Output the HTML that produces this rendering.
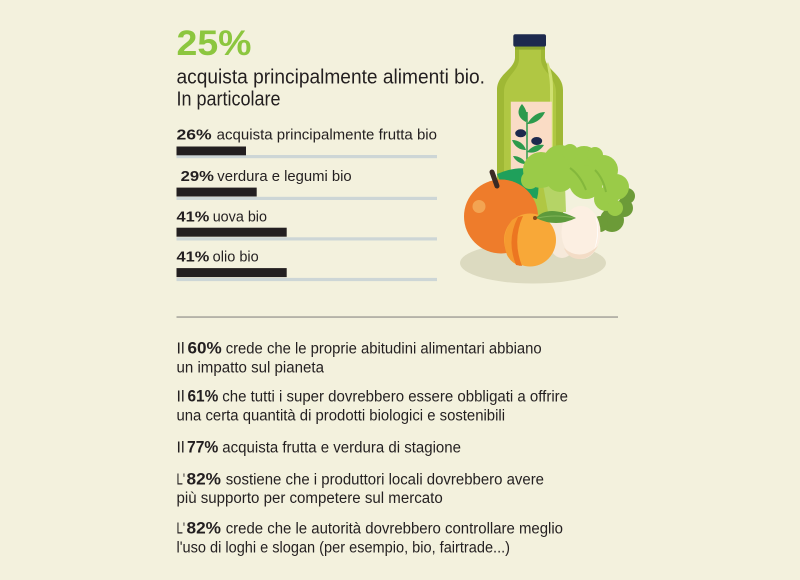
<!DOCTYPE html>
<html>
<head>
<meta charset="utf-8">
<style>
html,body{margin:0;padding:0;background:#f3f1dd;}
svg{display:block;}
text{font-family:"Liberation Sans",sans-serif;fill:#231f20;}
.b{font-weight:bold;}
</style>
</head>
<body>
<svg width="800" height="580" viewBox="0 0 800 580" xmlns="http://www.w3.org/2000/svg">
<rect x="0" y="0" width="800" height="580" fill="#f3f1dd"/>

<!-- Headline -->
<text x="176.5" y="55" class="b" font-size="35" textLength="75" lengthAdjust="spacingAndGlyphs" style="fill:#8cc63f">25%</text>
<text x="176.5" y="83.3" font-size="20" textLength="308.5" lengthAdjust="spacingAndGlyphs">acquista principalmente alimenti bio.</text>
<text x="176.5" y="105.5" font-size="20" textLength="104" lengthAdjust="spacingAndGlyphs">In particolare</text>

<!-- Bars -->
<g fill="#cdd6d6">
<rect x="176.5" y="155" width="260.5" height="3.2"/>
<rect x="176.5" y="196.8" width="260.5" height="3.2"/>
<rect x="176.5" y="237.3" width="260.5" height="3.2"/>
<rect x="176.5" y="277.9" width="260.5" height="3.2"/>
</g>
<g fill="#231f20">
<rect x="176.5" y="146.5" width="69.5" height="8.8"/>
<rect x="176.5" y="187.6" width="80.2" height="8.9"/>
<rect x="176.5" y="227.7" width="110.2" height="9"/>
<rect x="176.5" y="268.1" width="110.2" height="9"/>
</g>

<text x="176.5" y="139.3" class="b" font-size="15" textLength="35.2" lengthAdjust="spacingAndGlyphs">26%</text>
<text x="216.7" y="139.3" font-size="14.5" textLength="220.3" lengthAdjust="spacingAndGlyphs">acquista principalmente frutta bio</text>

<text x="180.7" y="181" class="b" font-size="15" textLength="33.3" lengthAdjust="spacingAndGlyphs">29%</text>
<text x="217.3" y="181" font-size="14.5" textLength="134.4" lengthAdjust="spacingAndGlyphs">verdura e legumi bio</text>

<text x="176.5" y="221.7" class="b" font-size="15" textLength="32.8" lengthAdjust="spacingAndGlyphs">41%</text>
<text x="212.7" y="221.7" font-size="14.5" textLength="54.3" lengthAdjust="spacingAndGlyphs">uova bio</text>

<text x="176.5" y="261.7" class="b" font-size="15" textLength="32.8" lengthAdjust="spacingAndGlyphs">41%</text>
<text x="212.7" y="261.7" font-size="14.5" textLength="46" lengthAdjust="spacingAndGlyphs">olio bio</text>

<!-- Separator -->
<rect x="176.5" y="316.3" width="441.5" height="1.5" fill="#a4a39b"/>

<!-- Bottom statements -->
<text x="176.5" y="353.3" font-size="15.5" textLength="8" lengthAdjust="spacingAndGlyphs">Il</text>
<text x="187.5" y="353.3" class="b" font-size="16.5" textLength="34.2" lengthAdjust="spacingAndGlyphs">60%</text>
<text x="225.7" y="353.3" font-size="15.5" textLength="316" lengthAdjust="spacingAndGlyphs">crede che le proprie abitudini alimentari abbiano</text>
<text x="176.5" y="372.6" font-size="15.5" textLength="147.5" lengthAdjust="spacingAndGlyphs">un impatto sul pianeta</text>

<text x="176.5" y="401.6" font-size="15.5" textLength="8" lengthAdjust="spacingAndGlyphs">Il</text>
<text x="187.5" y="401.6" class="b" font-size="16.5" textLength="30.8" lengthAdjust="spacingAndGlyphs">61%</text>
<text x="222.3" y="401.6" font-size="15.5" textLength="345.7" lengthAdjust="spacingAndGlyphs">che tutti i super dovrebbero essere obbligati a offrire</text>
<text x="176.5" y="420.7" font-size="15.5" textLength="328.5" lengthAdjust="spacingAndGlyphs">una certa quantità di prodotti biologici e sostenibili</text>

<text x="176.5" y="452.7" font-size="15.5" textLength="8" lengthAdjust="spacingAndGlyphs">Il</text>
<text x="187" y="452.7" class="b" font-size="16.5" textLength="31.3" lengthAdjust="spacingAndGlyphs">77%</text>
<text x="222.3" y="452.7" font-size="15.5" textLength="238.7" lengthAdjust="spacingAndGlyphs">acquista frutta e verdura di stagione</text>

<text x="176.5" y="484.3" font-size="15.5" textLength="8.5" lengthAdjust="spacingAndGlyphs">L'</text>
<text x="186.5" y="484.3" class="b" font-size="16.5" textLength="34.5" lengthAdjust="spacingAndGlyphs">82%</text>
<text x="225.7" y="484.3" font-size="15.5" textLength="318.3" lengthAdjust="spacingAndGlyphs">sostiene che i produttori locali dovrebbero avere</text>
<text x="176.5" y="503" font-size="15.5" textLength="266.2" lengthAdjust="spacingAndGlyphs">più supporto per competere sul mercato</text>

<text x="176.5" y="533.3" font-size="15.5" textLength="8.5" lengthAdjust="spacingAndGlyphs">L'</text>
<text x="186.5" y="533.3" class="b" font-size="16.5" textLength="34.5" lengthAdjust="spacingAndGlyphs">82%</text>
<text x="225.7" y="533.3" font-size="15.5" textLength="337.3" lengthAdjust="spacingAndGlyphs">crede che le autorità dovrebbero controllare meglio</text>
<text x="176.5" y="552.3" font-size="15.5" textLength="333.5" lengthAdjust="spacingAndGlyphs">l'uso di loghi e slogan (per esempio, bio, fairtrade...)</text>

<!-- Illustration -->
<ellipse cx="533" cy="263" rx="73" ry="20.5" fill="#dcdac0"/>

<!-- Bottle -->
<path d="M515,46 L545,46 L545,58 C546,70 563,74 563,90 L563,215 L497,215 L497,90 C497,74 514,70 515,58 Z" fill="#9fb835"/>
<path d="M519,47 L541,47 L541,60 C542,72 556,77 556,92 L556,215 L504,215 L504,92 C504,77 518,72 519,60 Z" fill="#b0c743"/>
<path d="M548,62 C551,70 553,76 553,88 L553,160 L550,160 L550,88 C550,78 548,72 547,64 Z" fill="#cfe070"/>
<rect x="513.3" y="34.3" width="32.7" height="12.5" rx="2" fill="#1d2a4e"/>
<rect x="515" y="46.6" width="30" height="3" fill="#8ea82e"/>
<rect x="510.8" y="101.7" width="41" height="70" fill="#fadcc5"/>
<!-- olive branch -->
<path d="M527,168 L527,112" stroke="#2d9a4c" stroke-width="1.5"/>
<path d="M526,122 C518,118 516,111 522,104 C527,110 528,116 526,122 Z" fill="#2d9a4c"/>
<path d="M527,124 C532,116 538,112 545,112 C542,119 535,124 527,124 Z" fill="#2d9a4c"/>
<path d="M526,150 C518,150 514,145 512,140 C519,140 524,144 526,150 Z" fill="#2d9a4c"/>
<path d="M527,152 C532,146 538,144 544,145 C540,151 534,154 527,152 Z" fill="#2d9a4c"/>
<path d="M526,164 C519,164 515,160 513,156 C519,156 524,159 526,164 Z" fill="#2d9a4c"/>
<path d="M527,165 C533,159 539,157 545,158 C541,164 534,167 527,165 Z" fill="#2d9a4c"/>
<ellipse cx="520.7" cy="133.3" rx="5.5" ry="4" fill="#1d2a4e"/>
<ellipse cx="536.7" cy="141" rx="5.5" ry="4" fill="#1d2a4e"/>

<!-- Orange -->
<path d="M497,174 Q518,165 534,170 Q541,184 537,199 Q515,192 500,181 Z" fill="#1fa05b"/>
<circle cx="501" cy="216.5" r="37" fill="#ee7c2b"/>
<circle cx="479" cy="206.5" r="6.5" fill="#f3a452"/>
<path d="M492,172 L497,186" stroke="#3a2a25" stroke-width="5" stroke-linecap="round"/>

<!-- Broccoli -->
<g fill="#6c9b38">
<circle cx="612" cy="220" r="12"/>
<circle cx="624" cy="208" r="9"/>
<circle cx="600" cy="224" r="8"/>
<circle cx="627" cy="196" r="8"/>
</g>
<path d="M543,185 L565,185 L566,212 L548,212 Z" fill="#b5d466"/>
<g fill="#9acb48">
<circle cx="541" cy="170" r="18"/>
<circle cx="560" cy="162" r="17"/>
<circle cx="584" cy="162" r="16"/>
<circle cx="603" cy="170" r="15"/>
<circle cx="616" cy="187" r="13"/>
<circle cx="560" cy="178" r="14"/>
<circle cx="586" cy="182" r="17"/>
<circle cx="606" cy="199" r="12"/>
<circle cx="615" cy="208" r="8"/>
<circle cx="530" cy="180" r="9"/>
<circle cx="570" cy="152" r="8"/>
<circle cx="595" cy="155" r="8"/>
</g>
<path d="M570,168 Q580,175 586,190 M595,170 Q603,178 606,192" stroke="#84b83c" stroke-width="2" fill="none"/>

<!-- Egg -->
<ellipse cx="562" cy="238" rx="14" ry="20" fill="#f6e9da"/>
<ellipse cx="581" cy="232.5" rx="19.5" ry="26.5" fill="#fcefe2"/>
<path d="M595,215 Q600,232 594,250 Q600,238 597,220 Z" fill="#ffffff"/>
<path d="M564,248 Q580,262 598,246 Q590,260 578,259 Q568,258 564,248 Z" fill="#f3dcc6"/>

<!-- Apricot -->
<ellipse cx="530" cy="240" rx="26" ry="26.5" fill="#f8a838"/>
<path d="M522,216 Q508,240 520,266 Q511,263 507,255 Q500,236 512,220 Q516,217 522,216 Z" fill="#f59a30"/>
<path d="M523,216 Q512,240 522,266 L516,265 Q506,240 518,217 Z" fill="#ec7621"/>
<path d="M536,218 Q548,204 576,218 Q556,228 536,218 Z" fill="#5d9a3c"/>
<path d="M538,218 Q555,214 574,218" stroke="#7fb356" stroke-width="1" fill="none"/>
<circle cx="535" cy="218" r="2" fill="#8a4a1a"/>
</svg>
</body>
</html>
